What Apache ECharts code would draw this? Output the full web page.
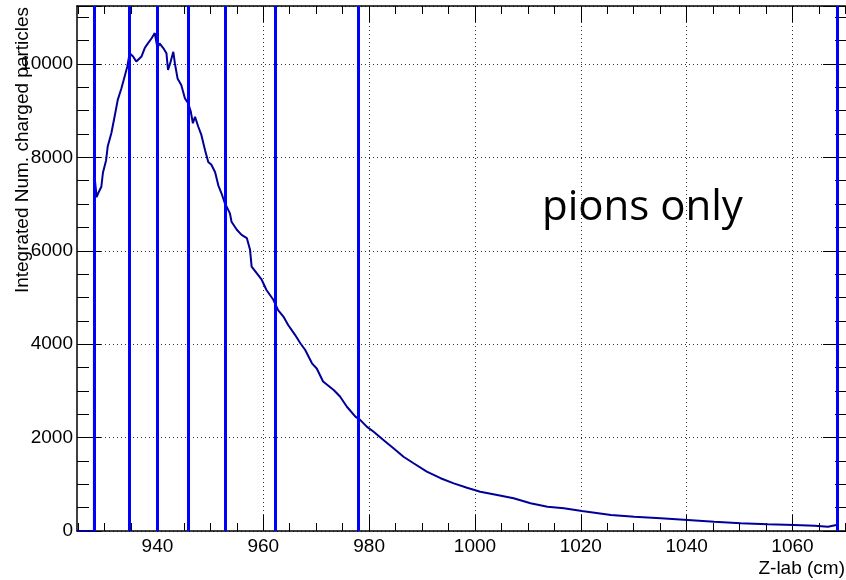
<!DOCTYPE html>
<html>
<head>
<meta charset="utf-8">
<title>pions only</title>
<script src="https://cdn.jsdelivr.net/npm/echarts@6.0.0/dist/echarts.min.js"></script>
<style>
html, body { margin: 0; padding: 0; background: #fff; }
#chart { width: 846px; height: 580px; }
</style>
</head>
<body>
<div id="chart"></div>
<script>
// histogram: z position (cm) and integrated count
const zLab = [
  924.8, 928.0, 928.0, 928.2, 928.2, 928.5, 928.8, 929.4, 929.7, 930.3,
  930.6, 931.3, 931.9, 932.5, 933.2, 933.8, 934.3, 934.75, 935.4, 936.0,
  936.3, 937.0, 937.6, 938.2, 938.9, 939.5, 939.7, 940.0, 940.4, 941.1,
  941.7, 942.0, 942.5, 943.0, 943.3, 943.8, 944.5, 945.2, 945.8, 946.3,
  946.7, 947.1, 947.7, 948.3, 949.0, 949.6, 950.2, 950.9, 951.5, 952.1,
  952.7, 953.7, 954.0, 955.0, 955.9, 956.9, 957.5, 957.8, 958.75, 959.7,
  960.6, 961.9, 962.8, 963.8, 964.7, 966.0, 967.0, 967.9, 969.2, 970.1,
  971.3, 973.3, 974.5, 975.8, 977.4, 978.3, 979.6, 980.8, 982.7, 984.6,
  986.5, 988.4, 990.9, 993.5, 996.0, 998.5, 1001.0, 1004.2, 1007.3, 1010.5,
  1013.7, 1016.8, 1020.2, 1025.7, 1030.1, 1035.1, 1040.2, 1045.2, 1050.2, 1055.3,
  1060.3, 1064.2, 1066.7, 1068.3
]
const counts = [
  0, 0, 3870, 3870, 7500, 7150, 7230, 7370, 7670, 7940,
  8230, 8520, 8870, 9230, 9480, 9730, 9940, 10230, 10160, 10050,
  10010, 10160, 10340, 10440, 10550, 10660, 10690, 10340, 10440, 10340,
  10230, 9870, 10050, 10260, 10010, 9690, 9550, 9260, 9160, 8980,
  8730, 8870, 8660, 8480, 8150, 7900, 7840, 7680, 7400, 7230,
  7030, 6800, 6620, 6450, 6340, 6270, 6020, 5660, 5520, 5380,
  5160, 4950, 4730, 4590, 4410, 4200, 4020, 3880, 3590, 3480,
  3200, 3020, 2880, 2660, 2450, 2380, 2230, 2130, 1950, 1770,
  1590, 1450, 1270, 1130, 1020, 925, 842, 771, 700, 593,
  520, 486, 428, 343, 306, 272, 236, 199, 165, 143,
  128, 113, 92, 128
]
// vertical blue markers (cm)
const cutPositions = [928.1, 934.6, 940.0, 945.8, 952.9, 962.2, 978.0, 1068.4]

// tick values
const xMajorTicks = [940, 960, 980, 1000, 1020, 1040, 1060]
const xAllTicks = ['925', '930', '935', '940', '945', '950', '955', '960', '965', '970',
  '975', '980', '985', '990', '995', '1000', '1005', '1010', '1015', '1020', '1025',
  '1030', '1035', '1040', '1045', '1050', '1055', '1060', '1065', '1070']

const X_MIN = 924.8, X_MAX = 1070.3, Y_MAX = 11240
const Y_MAJOR = 2000, Y_MINOR = 500
const FONT = 'Liberation Sans'
const L = 77, T = 6, W = 770, H = 525
const pxX = v => L + (v - X_MIN) / (X_MAX - X_MIN) * W

const frameRect = { left: L, top: T, width: W, height: H, containLabel: false, outerBoundsMode: 'none' }
// x tick grids run exactly from the first to the last tick value (925 .. 1070)
const xTickRect = { left: pxX(925), top: T, width: pxX(1070) - pxX(925), height: H, containLabel: false, outerBoundsMode: 'none' }

const isMajorX = (i, v) => Number(v) % 20 === 0
const noText = () => ''
const frame = { show: true, onZero: false, lineStyle: { color: '#000', width: 1.5 } }
const noLine = { show: false, onZero: false }
const gridDots = { show: true, lineStyle: { color: '#333', type: [1, 3], width: 1 } }
const tickStyle = { color: '#000', width: 1 }

function xTickAxis (grid, position, len, interval, labels) {
  return {
    type: 'category', gridIndex: grid, position: position, data: xAllTicks, boundaryGap: false,
    axisLine: noLine,
    axisTick: { show: true, inside: true, length: len, interval: interval, lineStyle: tickStyle },
    axisLabel: labels
      ? { show: true, interval: interval, margin: 6, color: '#000', fontFamily: FONT, fontSize: 19 }
      : { show: true, interval: 0, formatter: noText },
    splitLine: { show: false }
  }
}
function yTickAxis (grid, position, len, interval, labels) {
  return {
    type: 'value', gridIndex: grid, position: position, min: 0, max: Y_MAX, interval: interval,
    axisLine: grid === 0 ? frame : noLine,
    axisTick: { show: true, inside: true, length: len, lineStyle: tickStyle },
    axisLabel: labels
      ? { show: true, margin: 4, color: '#000', fontFamily: FONT, fontSize: 19, formatter: v => (v % Y_MAJOR === 0 ? String(v) : '') }
      : { show: true, formatter: noText },
    splitLine: labels ? gridDots : { show: false }
  }
}
const dummy = (grid) => ({ type: 'value', gridIndex: grid, show: false, min: 0, max: 1, axisLine: noLine })

const myChart = echarts.init(document.getElementById('chart'))
myChart.setOption({
  animation: false,
  backgroundColor: '#fff',
  // grid 0: data, frame, y major ticks; grid 1: x major ticks + labels; grid 2: x minor ticks; grid 3: y minor ticks
  grid: [frameRect, Object.assign({}, xTickRect), Object.assign({}, xTickRect), Object.assign({}, frameRect)],
  xAxis: [
    {
      type: 'value', gridIndex: 0, position: 'bottom', min: X_MIN, max: X_MAX,
      name: 'Z-lab (cm)', nameLocation: 'end', nameGap: -2,
      nameTextStyle: { color: '#000', fontFamily: FONT, fontSize: 19, align: 'right', verticalAlign: 'top', padding: [28, 0, 0, 0] },
      axisLine: frame,
      axisTick: { show: false, customValues: xMajorTicks },
      axisLabel: { show: false, customValues: xMajorTicks },
      splitLine: gridDots
    },
    {
      type: 'value', gridIndex: 0, position: 'top', min: X_MIN, max: X_MAX,
      axisLine: frame, axisTick: { show: false }, axisLabel: { show: false }, splitLine: { show: false }
    },
    xTickAxis(1, 'bottom', 16, isMajorX, true),
    xTickAxis(1, 'top', 16, isMajorX, false),
    xTickAxis(2, 'bottom', 8, 0, false),
    xTickAxis(2, 'top', 8, 0, false),
    dummy(3)
  ],
  yAxis: [
    yTickAxis(0, 'left', 24, Y_MAJOR, true),
    yTickAxis(0, 'right', 24, Y_MAJOR, false),
    dummy(1),
    dummy(2),
    yTickAxis(3, 'left', 12, Y_MINOR, false),
    yTickAxis(3, 'right', 12, Y_MINOR, false)
  ],
  graphic: [{
    type: 'text', x: 23, y: 150, rotation: Math.PI / 2,
    style: { text: 'Integrated Num. charged particles', fill: '#000', font: '19px "Liberation Sans"', align: 'center', verticalAlign: 'middle' }
  }, {
    type: 'text', left: 542, top: 187,
    style: { text: 'pions only', fill: '#000', font: '42px "Open Sans"' }
  }],
  series: [{
    name: 'pions',
    type: 'line',
    xAxisIndex: 0,
    yAxisIndex: 0,
    showSymbol: false,
    data: zLab.map((z, i) => [z, counts[i]]),
    // 设置折线颜色
    lineStyle: { color: '#000099', width: 2 },
    markLine: {
      silent: true,
      symbol: ['none', 'none'],
      label: { show: false },
      lineStyle: { color: '#0000ff', width: 3, type: 'solid' },
      data: cutPositions.map(v => ({ xAxis: v }))
    }
  }]
})
</script>
</body>
</html>
